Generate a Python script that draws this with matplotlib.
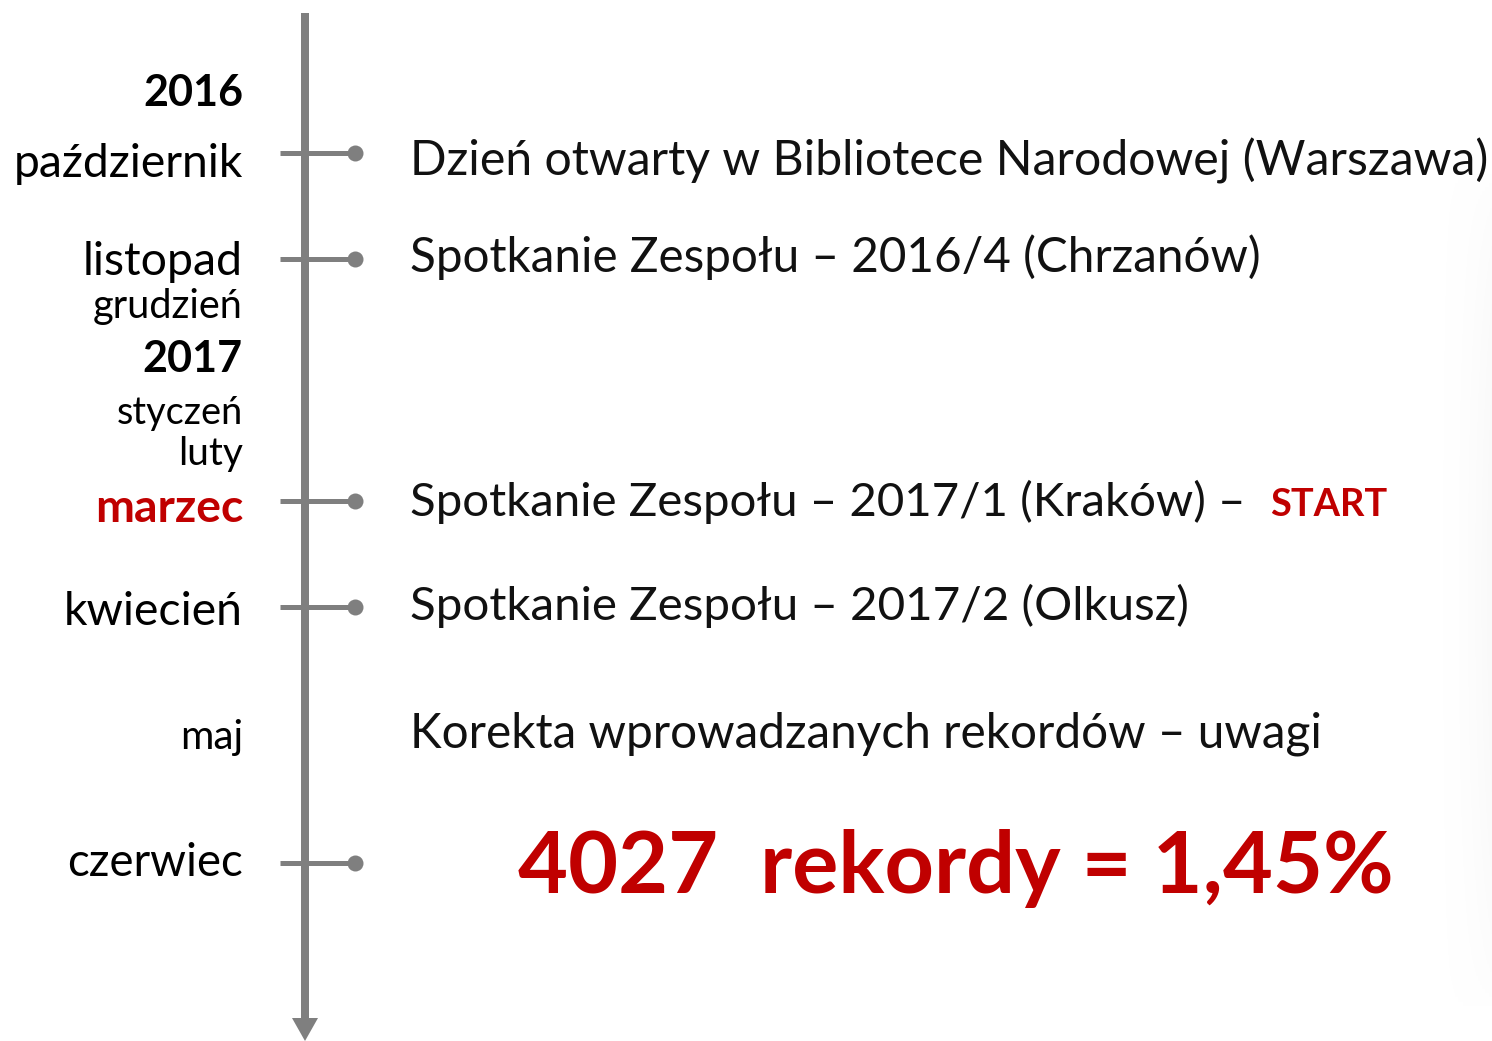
import numpy as np
import matplotlib
matplotlib.use("Agg")
import matplotlib.pyplot as plt
from matplotlib.patches import Polygon

plt.rcParams['font.family'] = ['Lato', 'DejaVu Sans']

# ---- data ----
month_labels = ["2016", "październik", "listopad", "grudzień", "2017", "styczeń",
                "luty", "marzec", "kwiecień", "maj", "czerwiec"]
month_bold = [True, False, False, False, True, False, False, True, False, False, False]
month_red = [False, False, False, False, False, False, False, True, False, False, False]

event_labels = ["Dzień otwarty w Bibliotece Narodowej (Warszawa)",
                "Spotkanie Zespołu – 2016/4 (Chrzanów)",
                "Spotkanie Zespołu – 2017/1 (Kraków) –",
                "Spotkanie Zespołu – 2017/2 (Olkusz)",
                "Korekta wprowadzanych rekordów – uwagi"]
start_label = "START"
summary_label = "4027  rekordy = 1,45%"

# ---- layout (pixels) ----
W, H = 1492, 1041
month_base = [106, 177, 275, 318, 372, 424, 465, 522, 625, 749, 876]
month_width = [100, 229, 160, 150, 100, 126, 65, 148, 179, 63, 176]
event_base = [176, 272, 516, 620, 748]
event_width = [1077, 850, 835, 778, 913]
tick_y = [153, 259, 501, 607, 863]

GRAY = '#7f7f7f'
RED = '#c00000'
PX = 72 / 100.0  # points per pixel

fig = plt.figure(figsize=(W / 100, H / 100), dpi=100)
ax = fig.add_axes([0, 0, 1, 1])
ax.set_xlim(0, W)
ax.set_ylim(H, 0)
ax.axis('off')

# faint shadow on right edge (fades horizontally and vertically)
gx = np.linspace(0, 1, 60)[None, :] ** 2
gy = np.sin(np.linspace(0, np.pi, 200))[:, None] ** 0.5
alpha = gx * gy * 0.12
ax.imshow(np.dstack([np.full_like(alpha, 0.8)] * 3 + [alpha]),
          extent=(1432, W, 1010, 170), aspect='auto', zorder=0)

# axis line with arrow
ax.plot([305, 305], [13, 1020], color=GRAY, lw=8 * PX, solid_capstyle='butt', zorder=2)
ax.add_patch(Polygon([(292, 1018), (318, 1018), (305, 1041)], closed=True,
                     facecolor=GRAY, edgecolor='none', zorder=2))

# ticks
for y in tick_y:
    ax.plot([280, 355], [y, y], color=GRAY, lw=5 * PX, solid_capstyle='butt', zorder=2)
    ax.plot([355], [y], 'o', color=GRAY, ms=16 * PX, mew=0, zorder=3)

fig.canvas.draw()
renderer = fig.canvas.get_renderer()


def fit_text(x, y, s, width, ha='left', **kw):
    t = ax.text(x, y, s, ha=ha, va='baseline', fontsize=40, **kw)
    bb = t.get_window_extent(renderer)
    t.set_fontsize(40 * width / bb.width)
    return t


for lab, b, w, bold, red in zip(month_labels, month_base, month_width, month_bold, month_red):
    fit_text(243, b, lab, w, ha='right', fontweight='bold' if bold else 'normal',
             color=RED if red else 'black')

for lab, b, w in zip(event_labels, event_base, event_width):
    fit_text(410, b, lab, w, color='#111111')

fit_text(1270, 516, start_label, 117, fontweight='bold', color=RED)
fit_text(518, 893, summary_label, 874, fontweight='bold', color=RED)

fig.savefig('out.png', dpi=100, facecolor='white')
